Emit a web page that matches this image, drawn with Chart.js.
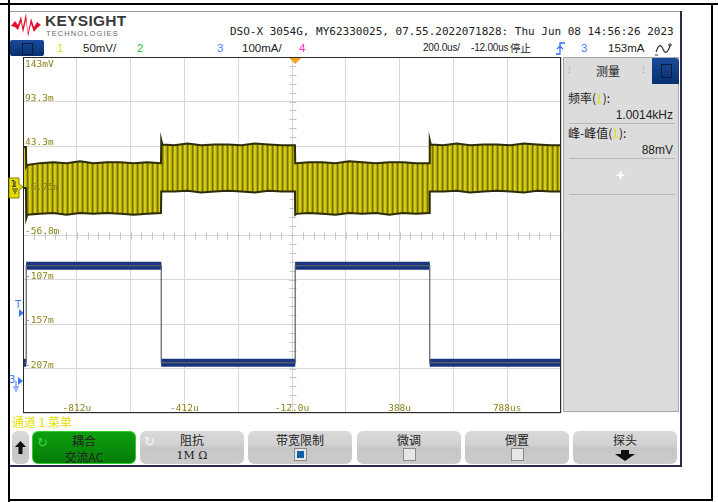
<!DOCTYPE html>
<html>
<head>
<meta charset="utf-8">
<script src="https://cdn.jsdelivr.net/npm/chart.js@4.4.1/dist/chart.umd.min.js"></script>
<style>
body{margin:0;width:718px;height:502px;position:relative;overflow:hidden;background:#fff;font-family:"Liberation Sans",Arial,sans-serif;color:#222;}
.abs{position:absolute;}
.line{position:absolute;background:#000;}
.hdr{position:absolute;top:41px;font-size:11.5px;line-height:14px;white-space:nowrap;}
.cjk{font-family:"Noto Sans CJK SC",sans-serif;}
.key{position:absolute;top:431px;height:33px;width:104px;border-radius:6px;box-sizing:border-box;
  background:linear-gradient(#d9d9d9 0%,#d2d2d2 40%,#c6c6c6 52%,#cbcbcb 100%);
  text-align:center;font:12px "Noto Sans CJK SC",sans-serif;color:#222;}
.key .t1{position:absolute;left:0;right:0;top:1px;line-height:15px;}
.key .t2{position:absolute;left:0;right:0;top:17px;line-height:15px;}
.chk{position:absolute;left:46px;top:17px;width:11px;height:11px;border:1px solid #8a8a8a;background:#e6e6e6;}
.meas{position:absolute;font-size:12px;line-height:14px;white-space:nowrap;}
.sep{position:absolute;left:5px;width:106px;height:1px;background:#b8b8b8;}
</style>
</head>
<body>

<!-- outer frame lines -->
<div class="line" style="left:0;top:3px;width:718px;height:2px"></div>
<div class="line" style="left:8px;top:0;width:2px;height:502px"></div>
<div class="line" style="left:711px;top:3px;width:2px;height:498px"></div>
<div class="line" style="left:8px;top:499px;width:705px;height:2px"></div>

<!-- scope screen edges -->
<div class="abs" style="left:10px;top:11px;width:671px;height:1px;background:#9a9a9a"></div>
<div class="abs" style="left:680px;top:11px;width:2px;height:456px;background:#2a2a4a"></div>
<div class="abs" style="left:10px;top:465px;width:672px;height:2px;background:#2a2a4a"></div>

<!-- logo -->
<svg class="abs" style="left:11px;top:13px" width="30" height="24" viewBox="0 0 30 24">
  <path d="M0,13 L4,8 L7,12 L10,3 L12,14 L15,0 L17,20 L20,5 L23,14 L26,9 L30,12 L26,15 L23,19 L20,11 L17,24 L15,7 L12,20 L10,9 L7,17 L4,14 Z" fill="#e3122c"/>
</svg>
<div class="abs" style="left:45px;top:12px;font:bold 15.5px 'Liberation Sans',Arial,sans-serif;letter-spacing:0.3px;color:#3a3a3a">KEYSIGHT</div>
<div class="abs" style="left:46px;top:29px;font:7.5px 'Liberation Sans',Arial,sans-serif;letter-spacing:1.1px;color:#6a6a6a">TECHNOLOGIES</div>
<div class="abs" style="left:230px;top:25px;font:11px 'DejaVu Sans Mono',monospace;color:#222;white-space:nowrap">DSO-X 3054G, MY62330025, 07.55.2022071828: Thu Jun 08 14:56:26 2023</div>

<!-- second header row -->
<div class="abs" style="left:10px;top:40px;width:34px;height:16px;background:linear-gradient(#1a4a9a,#06306e);border-radius:2px"></div>
<div class="abs" style="left:22px;top:43px;width:9px;height:10px;border:1px solid #0a1a3a"></div>
<div class="hdr" style="left:57px;color:#e6e000">1</div>
<div class="hdr" style="left:83px">50mV/</div>
<div class="hdr" style="left:137px;color:#30c030">2</div>
<div class="hdr" style="left:217px;color:#4a7cff">3</div>
<div class="hdr" style="left:242px">100mA/</div>
<div class="hdr" style="left:299px;color:#ff28c0">4</div>
<div class="hdr" style="left:423px;font-size:10px;letter-spacing:-0.2px">200.0us/</div>
<div class="hdr" style="left:471px;font-size:10px;letter-spacing:-0.2px">-12.00us</div>
<div class="hdr cjk" style="left:510px;font-size:10.5px">停止</div>
<svg class="abs" style="left:556px;top:42px" width="9" height="13" viewBox="0 0 9 13">
  <path d="M0,12 L4,12 L4,1 L9,1" stroke="#2a6cff" stroke-width="1.3" fill="none"/>
  <path d="M1,7 L4,4 L7,7" stroke="#2a6cff" stroke-width="1.2" fill="none"/>
</svg>
<div class="hdr" style="left:581px;color:#4a7cff">3</div>
<div class="hdr" style="left:608px">153mA</div>
<svg class="abs" style="left:655px;top:42px" width="18" height="14" viewBox="0 0 18 14">
  <path d="M1,10 C4,2 6,2 8,7 C10,12 12,12 15,4" stroke="#333" stroke-width="1.2" fill="none"/>
  <path d="M0,13 L3,13 M15,1 L15,5 M13,3 L17,3" stroke="#333" stroke-width="1"/>
</svg>

<!-- markers left of plot -->
<svg class="abs" style="left:8px;top:177px" width="16" height="22" viewBox="0 0 16 22">
  <path d="M1,1 L11,1 L11,7 L15,10 L11,13 L11,21 L1,21 Z" fill="#e4dc00" stroke="#8a8400" stroke-width="1"/>
  <text x="2.5" y="10" font-family="DejaVu Sans" font-size="9" fill="#333">1</text>
  <path d="M7,4 L7,10 M4,12 L10,12 M5,14 L9,14 M6,16 L8,16" stroke="#333" stroke-width="1"/>
</svg>
<svg class="abs" style="left:15px;top:299px" width="10" height="21" viewBox="0 0 10 21">
  <text x="0" y="9" font-family="DejaVu Sans" font-size="10" fill="#3a78ff">T</text>
  <path d="M4,10 L9,14 L4,18 Z" fill="#3a78ff"/>
</svg>
<svg class="abs" style="left:9px;top:374px" width="16" height="20" viewBox="0 0 16 20">
  <text x="0" y="9" font-family="DejaVu Sans" font-size="10" fill="#3a78ff">3</text>
  <path d="M9,3 L14,7 L9,11 Z" fill="#3a78ff"/>
  <path d="M7,7 L7,13 M4,13 L10,13 M5,15 L9,15 M6,17 L8,17" stroke="#3a78ff" stroke-width="1"/>
</svg>

<!-- measurement panel -->
<div class="abs cjk" style="left:563px;top:57px;width:116px;height:355px;background:#dcdcdc;box-sizing:border-box;border:1px solid #a8a8a8">
  <div class="abs" style="left:4px;top:5px;font-size:9px;color:#999">⁞</div>
  <div class="abs" style="left:78px;top:5px;font-size:9px;color:#999">⁞</div>
  <div class="meas" style="left:32px;top:6px;font-size:12px">测量</div>
  <div class="abs" style="left:88px;top:0;width:27px;height:26px;background:linear-gradient(#1a4a9a,#06306e);border-radius:0 4px 0 0"></div>
  <div class="abs" style="left:97px;top:6px;width:9px;height:12px;border:1px solid #0a1a3a"></div>
  <div class="meas" style="left:4px;top:33px">频率(<span style="color:#e6e000">1</span>):</div>
  <div class="meas" style="right:5px;top:50px;font-family:'Liberation Sans',Arial,sans-serif">1.0014kHz</div>
  <div class="sep" style="top:65px"></div>
  <div class="meas" style="left:4px;top:68px">峰-峰值(<span style="color:#e6e000">1</span>):</div>
  <div class="meas" style="right:5px;top:85px;font-family:'Liberation Sans',Arial,sans-serif">88mV</div>
  <div class="sep" style="top:100px"></div>
  <div class="meas" style="left:52px;top:110px;color:#fff;font-size:15px;font-weight:bold">+</div>
  <div class="sep" style="top:136px"></div>
</div>

<!-- softkeys -->
<div class="abs cjk" style="left:12px;top:415px;font-size:12px;line-height:14px;color:#e6e000">通道 1 菜单</div>
<div class="key" style="left:12px;width:17px">
  <svg class="abs" style="left:3px;top:10px" width="11" height="13" viewBox="0 0 11 13"><path d="M5.5,0 L11,6 L7.5,6 L7.5,13 L3.5,13 L3.5,6 L0,6 Z" fill="#111"/></svg>
</div>
<div class="key" style="left:32px;background:linear-gradient(#0ea010,#067c08);border:1px solid #2ad02a">
  <div class="abs" style="left:4px;top:0;color:#3ad43a;font-size:13px">↻</div>
  <div class="t1">耦合</div><div class="t2">交流AC</div>
</div>
<div class="key" style="left:140px">
  <div class="abs" style="left:4px;top:0;color:#f4f4f4;font-size:13px">↻</div>
  <div class="t1">阻抗</div><div class="t2" style="font-family:'DejaVu Serif',serif;font-size:11px">1M Ω</div>
</div>
<div class="key" style="left:248px">
  <div class="t1">带宽限制</div>
  <div class="chk" style="background:#0d5fa8;box-shadow:inset 0 0 0 2px #e6e6e6"></div>
</div>
<div class="key" style="left:357px">
  <div class="t1">微调</div><div class="chk"></div>
</div>
<div class="key" style="left:465px">
  <div class="t1">倒置</div><div class="chk"></div>
</div>
<div class="key" style="left:573px">
  <div class="t1">探头</div>
  <svg class="abs" style="left:42px;top:19px" width="20" height="11" viewBox="0 0 20 11"><path d="M6,0 L14,0 L14,4 L20,4 L10,11 L0,4 L6,4 Z" fill="#111"/></svg>
</div>

<canvas id="scope" width="718" height="502" style="position:absolute;left:0;top:0"></canvas>

<script>
// time base, us (200us/div, -12us centre)
const timeGrid = [-1012, -812, -612, -412, -212, -12, 188, 388, 588, 788, 988];
const xLabelTimes = [-812, -412, -12, 388, 788];
const xLabels = ['-812u', '-412u', '-12.0u', '388u', '788us'];

// channel 1 grid, mV (50mV/div)
const ch1Grid = [143.25, 93.25, 43.25, -6.75, -56.75, -106.75, -156.75, -206.75, -256.75];
const yLabels = ['143mV', '93.3m', '43.3m', '-6.75m', '-56.8m', '-107m', '-157m', '-207m'];

// channel 1 ripple envelope (top / bottom of the trace band), mV
const ch1Time = [-1012, -1001, -1000, -996, -950, -900, -850, -800, -750, -700, -650, -600, -550, -499,
  -498, -494, -450, -400, -350, -300, -250, -200, -150, -100, -50, -1,
  0, 4, 50, 100, 150, 200, 250, 300, 350, 400, 450, 499,
  500, 504, 550, 600, 650, 700, 750, 800, 850, 900, 950, 988];
const ch1Upper = [42, 42, 20, 22, 24, 25, 24, 26, 24, 25, 25, 24, 25, 24,
  50, 45, 44, 46, 44, 45, 45, 44, 46, 45, 44, 44,
  24, 24, 25, 25, 24, 26, 25, 24, 25, 25, 24, 24,
  50, 45, 44, 46, 44, 45, 45, 44, 46, 45, 44, 44];
const ch1Lower = [-4, -4, -38, -34, -33, -32, -34, -32, -33, -32, -33, -34, -33, -32,
  -8, -8, -8, -7, -9, -8, -7, -8, -9, -7, -8, -8,
  -34, -33, -32, -33, -34, -32, -33, -32, -34, -32, -33, -32,
  -8, -8, -8, -7, -9, -8, -7, -8, -9, -7, -8, -8];

// channel 3 current, mA (100mA/div)
const ch3Time = [-1012, -1000, -1000, -498, -498, 0, 0, 500, 500, 988];
const ch3Value = [43, 43, 261, 261, 43, 43, 261, 261, 43, 43];

const toPoints = (xs, ys) => xs.map((x, i) => ({x: x, y: ys[i]}));

// only the flat parts of the square wave, broken by nulls
function flatParts(xs, ys) {
  const pts = [];
  for (let i = 0; i < xs.length - 1; i++) {
    if (ys[i] === ys[i + 1]) {
      pts.push({x: xs[i], y: ys[i]}, {x: xs[i + 1], y: ys[i + 1]}, {x: xs[i + 1], y: null});
    }
  }
  return pts;
}

// striped fill for the yellow ripple band
function ripplePattern() {
  const c = document.createElement('canvas');
  c.width = 5; c.height = 2;
  const g = c.getContext('2d');
  const cols = ['#cfc710', '#b3ab00', '#75700a', '#a59e00', '#d6ce22'];
  cols.forEach((col, i) => { g.fillStyle = col; g.fillRect(i, 0, 1, 2); });
  return g.createPattern(c, 'repeat');
}

const scopeDecor = {
  id: 'scopeDecor',
  beforeDatasetsDraw(chart) {
    const {ctx, scales} = chart;
    const cx = Math.round(scales.x.getPixelForValue(-12)) + 0.5;
    const cy = Math.round(scales.y.getPixelForValue(-56.75)) + 0.5;
    ctx.save();
    ctx.strokeStyle = '#c4c4c4';
    ctx.lineWidth = 1;
    ctx.beginPath();
    for (let v = -256.75; v <= 143.25; v += 10) {
      const py = Math.round(scales.y.getPixelForValue(v)) + 0.5;
      ctx.moveTo(cx - 3, py); ctx.lineTo(cx + 4, py);
    }
    for (let t = -1012; t <= 988; t += 40) {
      const px = Math.round(scales.x.getPixelForValue(t)) + 0.5;
      ctx.moveTo(px, cy - 3); ctx.lineTo(px, cy + 4);
    }
    ctx.stroke();
    ctx.restore();
  },
  afterDatasetsDraw(chart) {
    const {ctx, chartArea: a, scales} = chart;
    ctx.save();
    // frame
    ctx.strokeStyle = '#2a2a2a';
    ctx.lineWidth = 1;
    ctx.strokeRect(a.left + 0.5, a.top + 0.5, a.right - a.left - 1, a.bottom - a.top - 1);
    // y labels
    ctx.font = '9.5px "DejaVu Sans Mono", monospace';
    ctx.fillStyle = '#8a841a';
    ctx.textAlign = 'left';
    ctx.textBaseline = 'alphabetic';
    yLabels.forEach((lab, i) => {
      let py = scales.y.getPixelForValue(ch1Grid[i]) - 1;
      if (i === 0) py = a.top + 10;
      ctx.fillText(lab, a.left + 2, py);
    });
    // x labels
    ctx.textAlign = 'center';
    xLabels.forEach((lab, i) => {
      ctx.fillText(lab, scales.x.getPixelForValue(xLabelTimes[i]), a.bottom - 2);
    });
    // trigger point marker
    const tx = scales.x.getPixelForValue(0);
    ctx.fillStyle = '#f5a020';
    ctx.beginPath();
    ctx.moveTo(tx - 6, a.top + 1);
    ctx.lineTo(tx + 6, a.top + 1);
    ctx.lineTo(tx, a.top + 7);
    ctx.closePath();
    ctx.fill();
    ctx.restore();
  }
};

const ctx = document.getElementById('scope').getContext('2d');
new Chart(ctx, {
  type: 'line',
  data: {
    datasets: [
      {
        data: toPoints(ch1Time, ch1Lower),
        yAxisID: 'y',
        borderColor: '#2e2c06',
        borderWidth: 2,
        pointRadius: 0,
        fill: false
      },
      {
        data: toPoints(ch1Time, ch1Upper),
        yAxisID: 'y',
        borderColor: '#2e2c06',
        borderWidth: 2,
        pointRadius: 0,
        backgroundColor: ripplePattern(),
        fill: {target: 0}
      },
      {
        data: toPoints(ch3Time, ch3Value),
        yAxisID: 'y3',
        borderColor: '#5a6070',
        borderWidth: 1.2,
        pointRadius: 0,
        fill: false
      },
      {
        data: flatParts(ch3Time, ch3Value),
        yAxisID: 'y3',
        borderColor: '#18357e',
        borderWidth: 8,
        borderCapStyle: 'butt',
        pointRadius: 0,
        spanGaps: false,
        fill: false
      },
      {
        data: flatParts(ch3Time, ch3Value),
        yAxisID: 'y3',
        borderColor: '#3169e6',
        borderWidth: 5,
        borderCapStyle: 'butt',
        pointRadius: 0,
        spanGaps: false,
        fill: false
      }
    ]
  },
  options: {
    responsive: false,
    animation: false,
    devicePixelRatio: 1,
    layout: {padding: {left: 23, top: 57, right: 157, bottom: 89}},
    plugins: {legend: {display: false}, tooltip: {enabled: false}},
    elements: {line: {tension: 0}},
    scales: {
      x: {
        type: 'linear',
        min: timeGrid[0],
        max: timeGrid[timeGrid.length - 1],
        afterBuildTicks: s => { s.ticks = timeGrid.map(v => ({value: v})); },
        ticks: {display: false},
        border: {display: false},
        grid: {color: '#d8d8d8', lineWidth: 1, drawTicks: false}
      },
      y: {
        min: ch1Grid[ch1Grid.length - 1],
        max: ch1Grid[0],
        afterBuildTicks: s => { s.ticks = ch1Grid.map(v => ({value: v})); },
        ticks: {display: false},
        border: {display: false},
        grid: {color: '#d8d8d8', lineWidth: 1, drawTicks: false}
      },
      y3: {
        display: false,
        min: -70,
        max: 730
      }
    }
  },
  plugins: [scopeDecor]
});
</script>
</body>
</html>
